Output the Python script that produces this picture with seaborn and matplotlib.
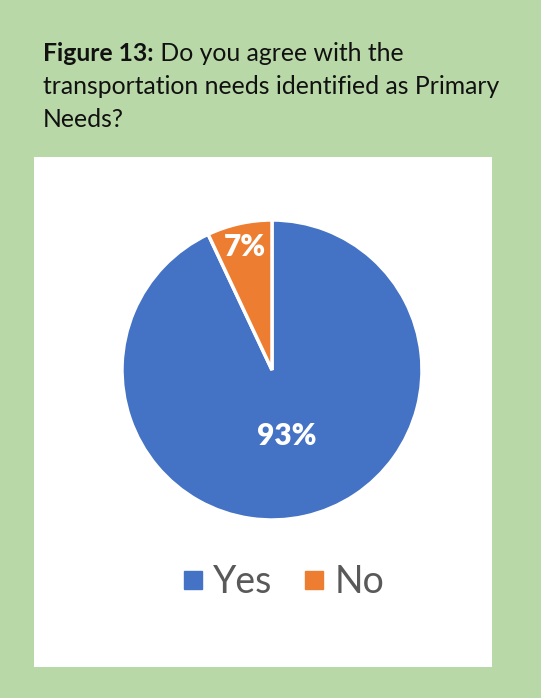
import matplotlib
matplotlib.use("Agg")
import matplotlib.pyplot as plt
from matplotlib.patches import Rectangle
from matplotlib.lines import Line2D
import numpy as np
import seaborn as sns

categories = ["Yes", "No"]
values = [93, 7]
pct_labels = ["93%", "7%"]
title_bold = "Figure 13:"
title_rest = " Do you agree with the"
title_lines = ["transportation needs identified as Primary", "Needs?"]

sns.set_theme(style="white")
plt.rcParams['font.family'] = ['Lato', 'DejaVu Sans']
colors = ["#4472C4", "#ED7D31"]

W, H = 541, 698
fig = plt.figure(figsize=(W / 100, H / 100), dpi=100)
fig.patch.set_facecolor("#B9D8A7")

def px(x, y):
    return x / W, 1 - y / H

# white panel
fig.patches.append(Rectangle(px(34, 667), (492 - 34) / W, (667 - 157) / H,
                             transform=fig.transFigure, facecolor="white",
                             edgecolor="none", zorder=-5))

fs = 17.8
t1 = fig.text(*px(43, 61), title_bold, fontsize=fs, fontweight="bold",
              color="#111111", va="baseline", ha="left")
fig.canvas.draw()
bb = t1.get_window_extent(fig.canvas.get_renderer())
fig.text(bb.x1 / W, 1 - 61 / H, title_rest, fontsize=fs, color="#111111",
         va="baseline", ha="left")
fig.text(*px(43, 94), title_lines[0], fontsize=fs, color="#111111",
         va="baseline", ha="left")
fig.text(*px(43, 127), title_lines[1], fontsize=fs, color="#111111",
         va="baseline", ha="left")

# pie
ax = fig.add_axes([122 / W, (H - 520) / H, 300 / W, 300 / H], zorder=2)
wedges, texts = ax.pie(values, colors=colors, startangle=90, counterclock=False,
                       wedgeprops=dict(edgecolor="white", linewidth=2.5))
ax.set_xlim(-1, 1)
ax.set_ylim(-1, 1)
ax.set_aspect("equal")
ax.axis("off")

dists = [0.45, 0.84]
for w, lab, d in zip(wedges, pct_labels, dists):
    ang = np.deg2rad((w.theta1 + w.theta2) / 2)
    ax.text(d * np.cos(ang), d * np.sin(ang), lab, ha="center", va="center",
            color="white", fontsize=21.5, fontweight="heavy")

handles = [Line2D([], [], marker="s", linestyle="none", markersize=13,
                  markerfacecolor=c, markeredgecolor=c) for c in colors]
fig.legend(handles, categories, loc="center", bbox_to_anchor=px(281, 582),
           ncol=2, frameon=False, fontsize=27, labelcolor="#595959",
           handletextpad=0.15, columnspacing=0.7, handlelength=0.8)

fig.savefig("out.png", dpi=100, facecolor=fig.get_facecolor())
